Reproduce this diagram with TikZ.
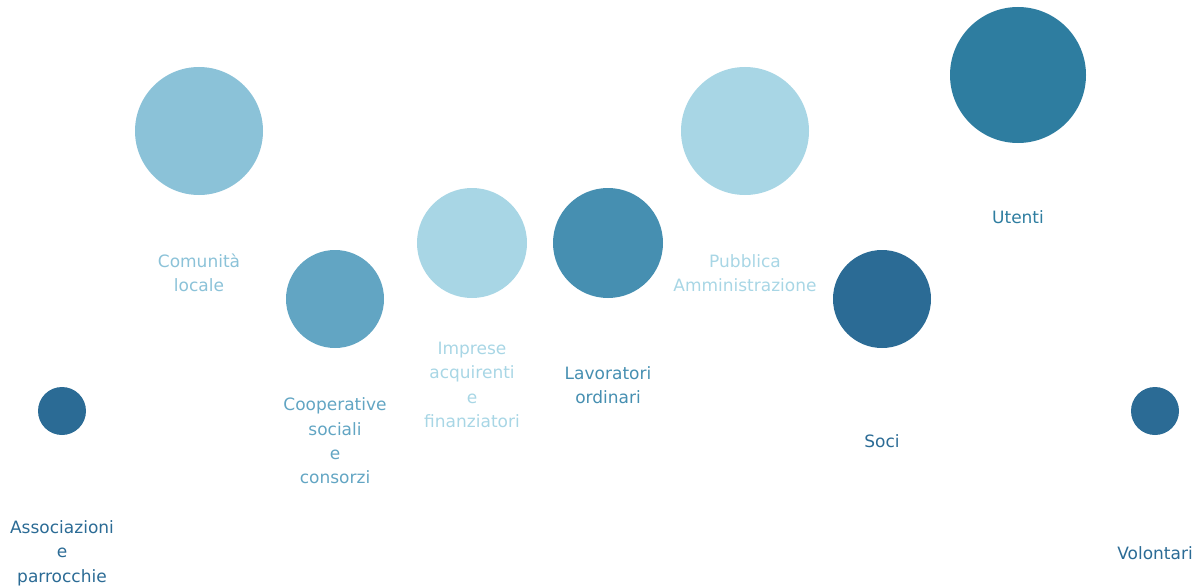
\documentclass[tikz,border=0pt]{standalone}
\usepackage{fontspec}
\setmainfont{DejaVu Sans}
\usepackage{xcolor}
\definecolor{deepblue}{HTML}{2B6B95}
\definecolor{tealblue}{HTML}{2E7DA0}
\definecolor{midblue}{HTML}{468FB1}
\definecolor{softblue}{HTML}{62A5C3}
\definecolor{skyblue}{HTML}{8BC2D8}
\definecolor{paleblue}{HTML}{A8D6E5}
\tikzset{
	dot/.style={circle, fill=#1, draw=none, inner sep=0pt},
	lbl/.style={text=#1, align=center, font=\fontsize{17}{24.4}\selectfont}
}

\begin{document}
\begin{tikzpicture}[x=1pt, y=-1pt]
	\useasboundingbox (0, 0) rectangle (1200, 586);
	% Circles:
	\node[dot=deepblue, minimum size=48pt](ass) at (62, 411){};
	\node[dot=skyblue, minimum size=128pt](com) at (199, 131){};
	\node[dot=softblue, minimum size=98pt](coop) at (335, 299){};
	\node[dot=paleblue, minimum size=110pt](imp) at (472, 243){};
	\node[dot=midblue, minimum size=110pt](lav) at (608, 243){};
	\node[dot=paleblue, minimum size=128pt](pa) at (745, 131){};
	\node[dot=deepblue, minimum size=98pt](soc) at (882, 299){};
	\node[dot=tealblue, minimum size=136pt](ute) at (1018, 75){};
	\node[dot=deepblue, minimum size=48pt](vol) at (1155, 411){};
	% Labels:
	\node[lbl=deepblue](ass-t) at ([yshift=-142pt]ass.center){Associazioni\\e\\parrocchie};
	\node[lbl=skyblue](com-t) at ([yshift=-142pt]com.center){Comunità\\locale};
	\node[lbl=softblue](coop-t) at ([yshift=-142pt]coop.center){Cooperative\\sociali\\e\\consorzi};
	\node[lbl=paleblue](imp-t) at ([yshift=-142pt]imp.center){Imprese\\acquirenti\\e\\finanziatori};
	\node[lbl=midblue](lav-t) at ([yshift=-142pt]lav.center){Lavoratori\\ordinari};
	\node[lbl=paleblue](pa-t) at ([yshift=-142pt]pa.center){Pubblica\\Amministrazione};
	\node[lbl=deepblue](soc-t) at ([yshift=-142pt]soc.center){Soci};
	\node[lbl=tealblue](ute-t) at ([yshift=-142pt]ute.center){Utenti};
	\node[lbl=deepblue](vol-t) at ([yshift=-142pt]vol.center){Volontari};
\end{tikzpicture}
\end{document}
